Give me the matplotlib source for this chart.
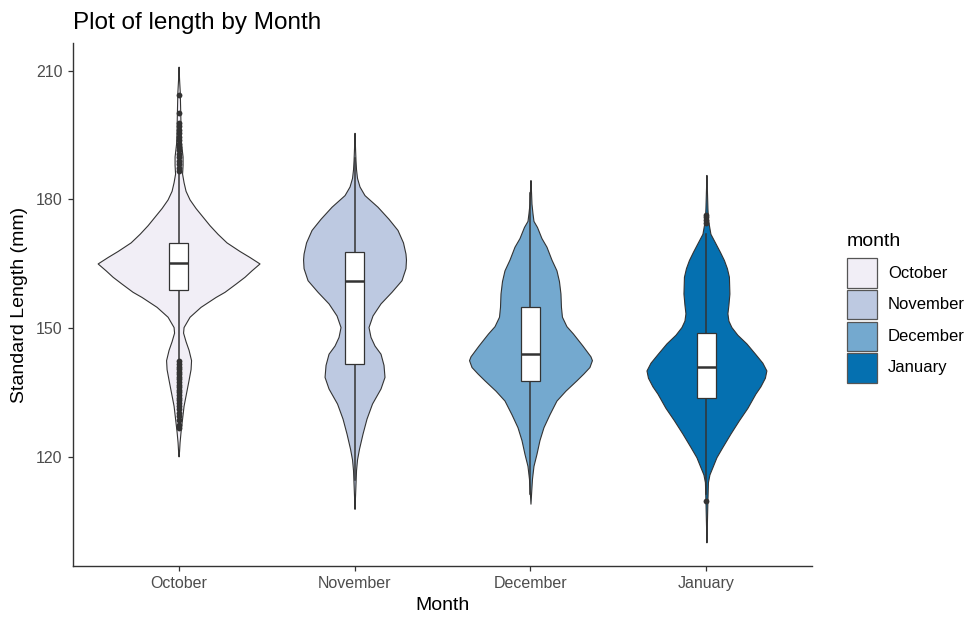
import numpy as np
import matplotlib
matplotlib.use("Agg")
import matplotlib.pyplot as plt
from matplotlib.patches import Rectangle

plt.rcParams['font.family'] = ['Liberation Sans', 'DejaVu Sans']

# categories and colours (PuBu)
months = ["October", "November", "December", "January"]
colors = ["#f1eef6", "#bdc9e1", "#74a9cf", "#0570b0"]

# violin density profiles (length mm, relative density)
oct_y = [210.9, 208, 205, 202, 199, 196, 193, 190, 188, 186, 184, 182, 180, 178, 176, 174,
         172, 170, 168, 166.6, 165.1, 163.5, 162, 160.4, 158.5, 157.3, 155, 152.7, 150.3,
         149, 147, 145, 142.6, 140.5, 138, 135, 132, 129, 126, 123.5, 121.5, 120.2]
oct_d = [0, 0.5, 1.2, 1.5, 1.8, 2, 2.5, 4, 4, 3.5, 5, 7, 11, 17, 24, 31,
         39, 48, 61, 71, 81, 73, 66, 57, 46, 37, 22, 11, 5,
         4.5, 7, 10, 12.5, 12, 10, 7.5, 5, 3.5, 2, 1, 0.5, 0]

nov_y = [195.5, 192, 189, 187, 185, 183, 181, 178.3, 175.5, 172.9, 170, 167.4, 166, 164,
         161.2, 158.5, 155.8, 153, 150.3, 148, 146, 144.1, 141.5, 138.7, 136, 132.5, 129,
         125.5, 122, 119.5, 117, 114, 111, 108]
nov_d = [0, 0.5, 1, 1.5, 2.5, 5, 10, 23, 34, 43, 48.5, 51, 51.5, 51,
         47, 37, 26, 18, 14, 16, 20, 26, 29, 30, 26, 17.5, 12,
         8, 4.5, 2.5, 1.5, 1, 0.5, 0]

dec_y = [184.5, 182, 179, 176.8, 175, 173.6, 171, 169, 166, 163.5, 161, 158.1, 155, 152.7,
         150.5, 148.8, 146, 143.5, 142.6, 141, 139.5, 137.9, 135.5, 133.2, 130, 127, 124,
         120.8, 118, 115, 112, 109.2]
dec_d = [0, 0.5, 1, 2, 3, 6.5, 11, 16, 21, 26, 28.5, 30, 30.5, 31.5,
         36, 42.5, 52, 60, 61.5, 59, 53, 46, 35, 26, 19, 13, 9,
         6, 3, 1.5, 0.7, 0]

jan_y = [185.7, 182, 178, 175.5, 174, 172, 169.8, 167.8, 165.9, 164, 162, 158.1, 155.5,
         153.5, 151.8, 150.3, 148.5, 146.5, 144, 142, 140.2, 138.5, 136.5, 134.8, 131.5,
         128.6, 125.5, 122.4, 120, 117.7, 116, 114.2, 110, 105, 100.2]
jan_d = [0, 0.5, 1, 1.5, 2.5, 4, 9, 13.5, 17.5, 20.5, 22.5, 23, 22,
         21, 22, 25, 31, 40, 49, 56, 60, 58.5, 54, 49, 41,
         32.5, 24, 16, 10, 6, 3, 1.5, 1, 0.5, 0]

profiles_y = [oct_y, nov_y, dec_y, jan_y]
profiles_d = [oct_d, nov_d, dec_d, jan_d]

# boxplot stats
q1 = [158.9, 141.8, 137.7, 133.8]
median = [165.2, 161.0, 144.1, 140.9]
q3 = [169.8, 167.8, 155.0, 149.0]
whisk_lo = [142.6, 114.6, 111.5, 111.5]
whisk_hi = [186.2, 189.6, 181.5, 172.0]
outliers = [
    [204.3, 200.1, 197.8, 197.0, 196.2, 195.4, 194.6, 193.8, 193.0, 192.2, 191.4,
     190.6, 189.8, 189.0, 188.2, 187.4, 186.6,
     142.3, 141.7, 141.1, 140.5, 139.9, 139.3, 138.7, 138.1, 137.5, 136.9, 136.3,
     135.7, 135.1, 134.5, 133.9, 133.3, 132.7, 132.0, 131.2, 130.4, 129.6, 128.6,
     127.6, 126.8],
    [],
    [],
    [174.6, 175.2, 175.8, 176.3, 109.8],
]

fig = plt.figure(figsize=(9.72, 6.19), dpi=100)
ax = fig.add_axes([73 / 972, 1 - 566 / 619, (812 - 73) / 972, (566 - 43) / 619])

dmax = max(max(d) for d in profiles_d)
half = 0.46
box_w = 0.105
edge = "#333333"

for i, m in enumerate(months):
    x = i + 1
    y = np.array(profiles_y[i])
    w = np.array(profiles_d[i]) / dmax * half
    ax.fill_betweenx(y, x - w, x + w, facecolor=colors[i], edgecolor=edge,
                     linewidth=0.8, zorder=2)
    # whiskers
    ax.plot([x, x], [q3[i], whisk_hi[i]], color=edge, lw=1.1, zorder=3)
    ax.plot([x, x], [whisk_lo[i], q1[i]], color=edge, lw=1.1, zorder=3)
    # box
    ax.add_patch(Rectangle((x - box_w / 2, q1[i]), box_w, q3[i] - q1[i],
                           facecolor="white", edgecolor=edge, lw=0.9, zorder=4))
    ax.plot([x - box_w / 2, x + box_w / 2], [median[i], median[i]],
            color=edge, lw=1.8, zorder=5, solid_capstyle="butt")
    if outliers[i]:
        ax.plot([x] * len(outliers[i]), outliers[i], 'o', color=edge,
                markersize=4.2, markeredgewidth=0, zorder=5)

ax.set_xlim(0.4, 4.6)
ax.set_ylim(94.7, 216.4)
ax.set_xticks(range(1, len(months) + 1))
ax.set_xticklabels(months)
ax.set_yticks([120, 150, 180, 210])

for s in ["top", "right"]:
    ax.spines[s].set_visible(False)
for s in ["left", "bottom"]:
    ax.spines[s].set_color("#333333")
    ax.spines[s].set_linewidth(1.0)
ax.tick_params(axis="both", length=3.5, width=0.9, color="#333333",
               labelcolor="#4d4d4d", labelsize=11.5, pad=4)

ax.set_xlabel("Month", fontsize=14, color="black", labelpad=4)
ax.set_ylabel("Standard Length (mm)", fontsize=14, color="black", labelpad=6)

fig.text(73 / 972, 1 - 28.5 / 619, "Plot of length by Month", fontsize=17.5,
         ha="left", va="baseline")

# legend
fig.text(847 / 972, 1 - 246.5 / 619, "month", fontsize=14, ha="left", va="baseline")
key_top = 258.3
key_pitch = 31.6
for i, m in enumerate(months):
    top = key_top + i * key_pitch
    fig.add_artist(Rectangle((847 / 972, 1 - (top + 29.5) / 619), 29.5 / 972, 29.5 / 619,
                             transform=fig.transFigure, facecolor=colors[i],
                             edgecolor="#555555", lw=0.9))
    fig.text(888 / 972, 1 - (top + 14.75) / 619, m, fontsize=12, ha="left",
             va="center")

fig.savefig("out.png", dpi=100)
